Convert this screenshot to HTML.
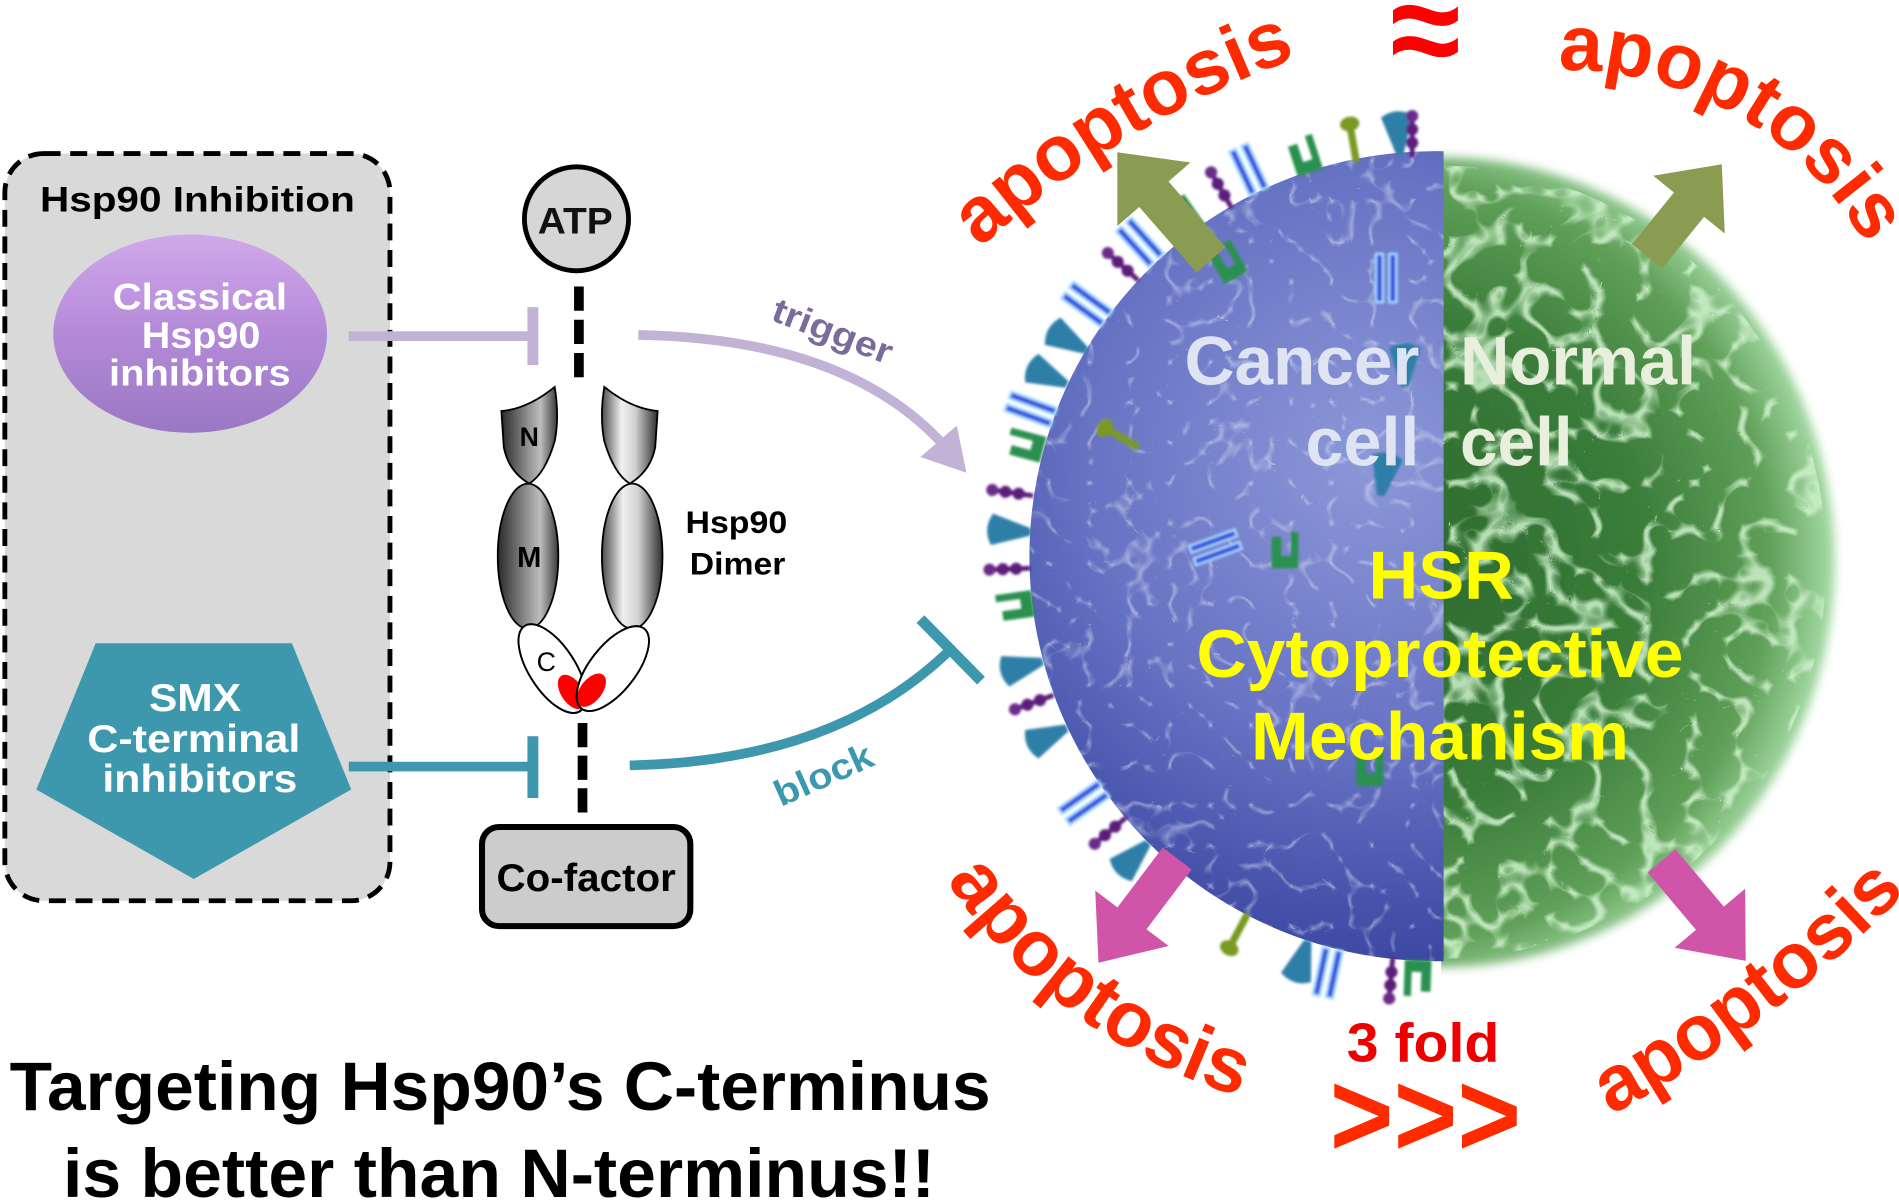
<!DOCTYPE html>
<html><head><meta charset="utf-8">
<style>
html,body{margin:0;padding:0;background:#fff;}
svg{display:block;}
text{font-family:"Liberation Sans",Arial,sans-serif;font-weight:bold;}
</style></head>
<body>
<svg width="1899" height="1203" viewBox="0 0 1568 995" preserveAspectRatio="none" xmlns="http://www.w3.org/2000/svg">
<defs>
  <linearGradient id="purp" x1="0" y1="0" x2="0" y2="1">
    <stop offset="0" stop-color="#d0a8ea"/>
    <stop offset="0.5" stop-color="#b48ad8"/>
    <stop offset="1" stop-color="#9a78c4"/>
  </linearGradient>
  <linearGradient id="domL" x1="0" y1="0" x2="1" y2="0">
    <stop offset="0" stop-color="#2a2a2a"/>
    <stop offset="0.45" stop-color="#8a8a8a"/>
    <stop offset="0.7" stop-color="#bdbdbd"/>
    <stop offset="1" stop-color="#3a3a3a"/>
  </linearGradient>
  <linearGradient id="domR" x1="0" y1="0" x2="1" y2="0">
    <stop offset="0" stop-color="#4a4a4a"/>
    <stop offset="0.35" stop-color="#f0f0f0"/>
    <stop offset="0.6" stop-color="#d0d0d0"/>
    <stop offset="1" stop-color="#2e2e2e"/>
  </linearGradient>
  <radialGradient id="blueG" cx="0.42" cy="0.38" r="0.62">
    <stop offset="0" stop-color="#8d98d8"/>
    <stop offset="0.55" stop-color="#6874c4"/>
    <stop offset="1" stop-color="#3c48a2"/>
  </radialGradient>
  <radialGradient id="greenG" cx="0.45" cy="0.5" r="0.55">
    <stop offset="0" stop-color="#2c6a2e"/>
    <stop offset="0.55" stop-color="#3a7c3a"/>
    <stop offset="0.85" stop-color="#5f9f58"/>
    <stop offset="1" stop-color="#a6dca6"/>
  </radialGradient>
  <clipPath id="leftHalf"><rect x="0" y="0" width="1192" height="995"/></clipPath>
  <clipPath id="rightHalf"><rect x="1190" y="0" width="400" height="995"/></clipPath>
  <filter id="gtex" x="0" y="0" width="100%" height="100%">
    <feTurbulence type="turbulence" baseFrequency="0.025" numOctaves="2" seed="7" result="n"/>
    <feColorMatrix in="n" type="matrix" values="0 0 0 0 0.62  0 0 0 0 0.88  0 0 0 0 0.6  -7 0 0 0 1.3" result="c"/>
    <feComposite in="c" in2="SourceGraphic" operator="in"/>
  </filter>
  <filter id="btex" x="0" y="0" width="100%" height="100%">
    <feTurbulence type="turbulence" baseFrequency="0.03" numOctaves="2" seed="3" result="n"/>
    <feColorMatrix in="n" type="matrix" values="0 0 0 0 0.78  0 0 0 0 0.82  0 0 0 0 0.95  -8 0 0 0 1.0" result="c"/>
    <feComposite in="c" in2="SourceGraphic" operator="in"/>
  </filter>
  <filter id="soft" x="-10%" y="-10%" width="120%" height="120%">
    <feGaussianBlur stdDeviation="4"/>
  </filter>
  <filter id="soft2" x="-10%" y="-10%" width="120%" height="120%">
    <feGaussianBlur stdDeviation="1.2"/>
  </filter>
  <path id="arcTL" d="M772.5,240.7 A782,782 0 0 1 1119.5,32.3"/>
  <path id="arcTR" d="M1266.8,59.2 A284,284 0 0 1 1549.8,220.6"/>
  <path id="arcBL" d="M742.5,657.3 A448,448 0 0 0 1103,923.2"/>
  <path id="arcBR" d="M1279.4,948.2 A1006,1006 0 0 0 1612.5,695.3"/>
</defs>

<!-- ===== Left dashed box ===== -->
<rect x="4" y="127" width="318" height="618" rx="32" fill="#d9d9d9" stroke="#000" stroke-width="4" stroke-dasharray="14 8"/>
<text x="163" y="175" font-size="29" text-anchor="middle" textLength="260" lengthAdjust="spacingAndGlyphs" fill="#000">Hsp90 Inhibition</text>

<ellipse cx="157" cy="276" rx="113" ry="82" fill="url(#purp)"/>
<g fill="#fff" font-size="31" text-anchor="middle">
  <text x="165" y="256" textLength="144" lengthAdjust="spacingAndGlyphs">Classical</text>
  <text x="166" y="288" textLength="98" lengthAdjust="spacingAndGlyphs">Hsp90</text>
  <text x="165" y="319" textLength="150" lengthAdjust="spacingAndGlyphs">inhibitors</text>
</g>

<polygon points="79,532 241,532 290,653 160,727 30,653" fill="#3d97ad"/>
<g fill="#fff" font-size="32" text-anchor="middle">
  <text x="161" y="588" textLength="76" lengthAdjust="spacingAndGlyphs">SMX</text>
  <text x="160" y="622" textLength="176" lengthAdjust="spacingAndGlyphs">C-terminal</text>
  <text x="165" y="655" textLength="161" lengthAdjust="spacingAndGlyphs">inhibitors</text>
</g>

<!-- inhibition connectors -->
<line x1="288" y1="278" x2="440" y2="278" stroke="#c2b2d6" stroke-width="8"/>
<line x1="440" y1="254" x2="440" y2="302" stroke="#c2b2d6" stroke-width="9"/>
<line x1="288" y1="634" x2="440" y2="634" stroke="#3d97ad" stroke-width="8"/>
<line x1="440" y1="609" x2="440" y2="660" stroke="#3d97ad" stroke-width="9"/>

<!-- ATP -->
<circle cx="476" cy="181" r="43" fill="#d6d6d6" stroke="#000" stroke-width="4"/>
<text x="475" y="193" font-size="31" text-anchor="middle" textLength="62" lengthAdjust="spacingAndGlyphs" fill="#111">ATP</text>
<line x1="478" y1="237" x2="478" y2="312" stroke="#000" stroke-width="8" stroke-dasharray="20 7.5"/>
<line x1="481" y1="598" x2="481" y2="672" stroke="#000" stroke-width="8" stroke-dasharray="20 7"/>

<!-- Hsp90 dimer -->
<path d="M414,340 Q436,338 458,320 Q462,345 458,365 Q450,392 437,400 Q420,390 416,370 Z" fill="url(#domL)" stroke="#000" stroke-width="1.5"/>
<ellipse cx="436" cy="460" rx="25" ry="60" fill="url(#domL)" stroke="#000" stroke-width="1.5"/>
<path d="M543,340 Q521,338 499,320 Q495,345 499,365 Q507,392 520,400 Q537,390 541,370 Z" fill="url(#domR)" stroke="#000" stroke-width="1.5"/>
<ellipse cx="522" cy="460" rx="25" ry="60" fill="url(#domR)" stroke="#000" stroke-width="1.5"/>
<g transform="translate(456,553) rotate(-33)">
  <ellipse cx="0" cy="0" rx="19" ry="42" fill="#fff" stroke="#000" stroke-width="1.5"/>
  <ellipse cx="3" cy="25" rx="9" ry="16" fill="#f00"/>
  <ellipse cx="0" cy="0" rx="19" ry="42" fill="none" stroke="#000" stroke-width="1.5"/>
</g>
<g transform="translate(506,553) rotate(38)">
  <ellipse cx="0" cy="0" rx="19" ry="42" fill="#fff" stroke="#000" stroke-width="1.5"/>
  <ellipse cx="-3" cy="25" rx="9" ry="16" fill="#f00"/>
  <ellipse cx="0" cy="0" rx="19" ry="42" fill="none" stroke="#000" stroke-width="1.5"/>
</g>
<text x="437" y="369" font-size="22" text-anchor="middle" fill="#000">N</text>
<text x="437" y="469" font-size="24" text-anchor="middle" fill="#000">M</text>
<text x="451" y="555" font-size="22" text-anchor="middle" fill="#000" style="font-weight:normal">C</text>
<text x="608" y="441" font-size="26" text-anchor="middle" textLength="84" lengthAdjust="spacingAndGlyphs" fill="#000">Hsp90</text>
<text x="609" y="475" font-size="26" text-anchor="middle" textLength="79" lengthAdjust="spacingAndGlyphs" fill="#000">Dimer</text>

<!-- Co-factor -->
<rect x="398" y="684" width="172" height="82" rx="14" fill="#cccccc" stroke="#000" stroke-width="5"/>
<text x="484" y="737" font-size="32" text-anchor="middle" textLength="148" lengthAdjust="spacingAndGlyphs" fill="#000">Co-factor</text>

<!-- trigger arrow -->
<path d="M527,277 Q700,280 780,369" fill="none" stroke="#c2b2d6" stroke-width="8"/>
<polygon points="798,391 760,378 790,352" fill="#c2b2d6"/>
<text transform="translate(684,283) rotate(21)" font-size="29" text-anchor="middle" textLength="104" lengthAdjust="spacingAndGlyphs" fill="#7b6b9b">trigger</text>

<!-- block -->
<path d="M520,633 Q690,630 785,537" fill="none" stroke="#3d97ad" stroke-width="8"/>
<line x1="760" y1="512" x2="810" y2="563" stroke="#3d97ad" stroke-width="9"/>
<text transform="translate(684,650) rotate(-24)" font-size="30" text-anchor="middle" textLength="86" lengthAdjust="spacingAndGlyphs" fill="#3c98ae">block</text>

<!-- ===== Cell ===== -->
<g clip-path="url(#rightHalf)">
  <g filter="url(#soft)">
    <ellipse cx="1190" cy="465" rx="325" ry="335" fill="url(#greenG)"/>
  </g>
  <ellipse cx="1190" cy="465" rx="318" ry="328" fill="#000" filter="url(#gtex)" opacity="0.85"/>
</g>
<g clip-path="url(#leftHalf)">
  <circle cx="1185" cy="460" r="335" fill="url(#blueG)"/>
  <circle cx="1185" cy="460" r="335" fill="#000" filter="url(#btex)" opacity="0.45"/>
</g>

<!-- receptors -->
<defs>
  <g id="rA"><line x1="0" y1="0" x2="0" y2="-34" stroke="#5b1f7a" stroke-width="4"/><circle cx="0" cy="-12" r="5" fill="#5b1f7a"/><circle cx="0" cy="-23" r="5" fill="#5b1f7a"/><circle cx="0" cy="-34" r="5" fill="#6a2a8a"/></g>
  <g id="rB"><path d="M-3,0 L-13,-32 Q0,-40 13,-32 L3,0 Z" fill="#2d7fa8"/></g>
  <g id="rC"><rect x="-9" y="-40" width="6" height="40" fill="#3b4fe0" stroke="#a8dcff" stroke-width="2"/><rect x="2" y="-40" width="6" height="40" fill="#3b4fe0" stroke="#a8dcff" stroke-width="2"/></g>
  <g id="rD"><path d="M-10,0 L-10,-26 L-2,-26 L-2,-10 L6,-10 L6,-30 L12,-30 L12,0 Z" fill="#2a9050"/></g>
  <g id="rE"><line x1="0" y1="0" x2="0" y2="-28" stroke="#7a9a20" stroke-width="6"/><ellipse cx="0" cy="-32" rx="8" ry="6" fill="#7a9a20"/></g>
</defs>
<g filter="url(#soft2)">
  <use href="#rB" transform="translate(1156,128) rotate(355)"/>
  <use href="#rA" transform="translate(1166,130) rotate(0)"/>
  <use href="#rE" transform="translate(1120,134) rotate(350)"/>
  <use href="#rD" transform="translate(1081,143) rotate(342)"/>
  <use href="#rC" transform="translate(1040,158) rotate(335)"/>
  <use href="#rA" transform="translate(1017,172) rotate(330)"/>
  <use href="#rD" transform="translate(985,192) rotate(325)"/>
  <use href="#rC" transform="translate(955,215) rotate(318)"/>
  <use href="#rA" transform="translate(940,232) rotate(312)"/>
  <use href="#rC" transform="translate(914,263) rotate(306)"/>
  <use href="#rB" transform="translate(897,290) rotate(300)"/>
  <use href="#rB" transform="translate(881,318) rotate(295)"/>
  <use href="#rC" transform="translate(870,345) rotate(290)"/>
  <use href="#rD" transform="translate(861,373) rotate(285)"/>
  <use href="#rA" transform="translate(853,410) rotate(278)"/>
  <use href="#rB" transform="translate(851,440) rotate(274)"/>
  <use href="#rA" transform="translate(851,470) rotate(268)"/>
  <use href="#rD" transform="translate(853,500) rotate(262)"/>
  <use href="#rB" transform="translate(861,547) rotate(255)"/>
  <use href="#rA" transform="translate(870,575) rotate(250)"/>
  <use href="#rB" transform="translate(881,602) rotate(245)"/>
  <use href="#rC" transform="translate(911,652) rotate(235)"/>
  <use href="#rA" transform="translate(930,676) rotate(230)"/>
  <use href="#rB" transform="translate(948,697) rotate(225)"/>
  <use href="#rE" transform="translate(1030,756) rotate(208)"/>
  <use href="#rB" transform="translate(1080,778) rotate(198)"/>
  <use href="#rC" transform="translate(1100,785) rotate(192)"/>
  <use href="#rA" transform="translate(1150,792) rotate(185)"/>
  <use href="#rD" transform="translate(1172,794) rotate(182)"/>
  <!-- interior -->
  <use href="#rE" transform="translate(940,370) rotate(300)"/>
  <use href="#rD" transform="translate(1060,470) rotate(0)"/>
  <use href="#rB" transform="translate(1140,410) rotate(10)"/>
  <use href="#rC" transform="translate(985,460) rotate(70)"/>
  <use href="#rD" transform="translate(1130,650) rotate(0)"/>
  <use href="#rB" transform="translate(1160,320) rotate(0)"/>
  <use href="#rC" transform="translate(1145,250) rotate(0)"/>
  <use href="#rD" transform="translate(1020,230) rotate(330)"/>
</g>

<!-- cell labels -->
<g font-size="57">
  <text x="1075" y="318" text-anchor="middle" textLength="194" lengthAdjust="spacingAndGlyphs" fill="#dfe4f2">Cancer</text>
  <text x="1125" y="385" text-anchor="middle" textLength="94" lengthAdjust="spacingAndGlyphs" fill="#dfe4f2">cell</text>
  <text x="1303" y="318" text-anchor="middle" textLength="195" lengthAdjust="spacingAndGlyphs" fill="#e8efdc">Normal</text>
  <text x="1252" y="385" text-anchor="middle" textLength="93" lengthAdjust="spacingAndGlyphs" fill="#e8efdc">cell</text>
</g>
<g font-size="56" fill="#ffff00" text-anchor="middle">
  <text x="1190" y="495" textLength="120" lengthAdjust="spacingAndGlyphs">HSR</text>
  <text x="1189" y="560" textLength="402" lengthAdjust="spacingAndGlyphs">Cytoprotective</text>
  <text x="1189" y="628" textLength="312" lengthAdjust="spacingAndGlyphs">Mechanism</text>
</g>

<!-- block arrows -->
<g fill="#899c52">
  <polygon transform="translate(1000,215) rotate(-131)" points="0,-16 72,-16 72,-40 118,0 72,40 72,16 0,16"/>
  <polygon transform="translate(1360,212) rotate(-51)" points="0,-16 55,-16 55,-38 98,0 55,38 55,16 0,16"/>
</g>
<g fill="#d055a8">
  <polygon transform="translate(972,710) rotate(127)" points="0,-15 62,-15 62,-38 108,0 62,38 62,15 0,15"/>
  <polygon transform="translate(1372,712) rotate(50)" points="0,-15 62,-15 62,-38 108,0 62,38 62,15 0,15"/>
</g>

<!-- apoptosis labels (arched) -->
<g font-size="65" fill="#ff2a00">
  <text><textPath href="#arcTL" startOffset="50%" text-anchor="middle">apoptosis</textPath></text>
  <text><textPath href="#arcTR" startOffset="50%" text-anchor="middle">apoptosis</textPath></text>
  <text><textPath href="#arcBL" startOffset="50%" text-anchor="middle">apoptosis</textPath></text>
  <text><textPath href="#arcBR" startOffset="50%" text-anchor="middle">apoptosis</textPath></text>
</g>
<text x="1177" y="62" font-size="110" fill="#ff0000" text-anchor="middle" textLength="58" lengthAdjust="spacingAndGlyphs">≈</text>
<text x="1175" y="878" font-size="45" fill="#ee0000" text-anchor="middle" textLength="126" lengthAdjust="spacingAndGlyphs">3 fold</text>
<text x="1177" y="956" font-size="100" fill="#ff2a00" text-anchor="middle" textLength="158" lengthAdjust="spacingAndGlyphs">&gt;&gt;&gt;</text>

<!-- bottom statement -->
<g font-size="57" fill="#000" text-anchor="middle">
  <text x="413" y="918" textLength="810" lengthAdjust="spacingAndGlyphs">Targeting Hsp90’s C-terminus</text>
  <text x="412" y="990" textLength="720" lengthAdjust="spacingAndGlyphs">is better than N-terminus!!</text>
</g>
</svg>
</body></html>
